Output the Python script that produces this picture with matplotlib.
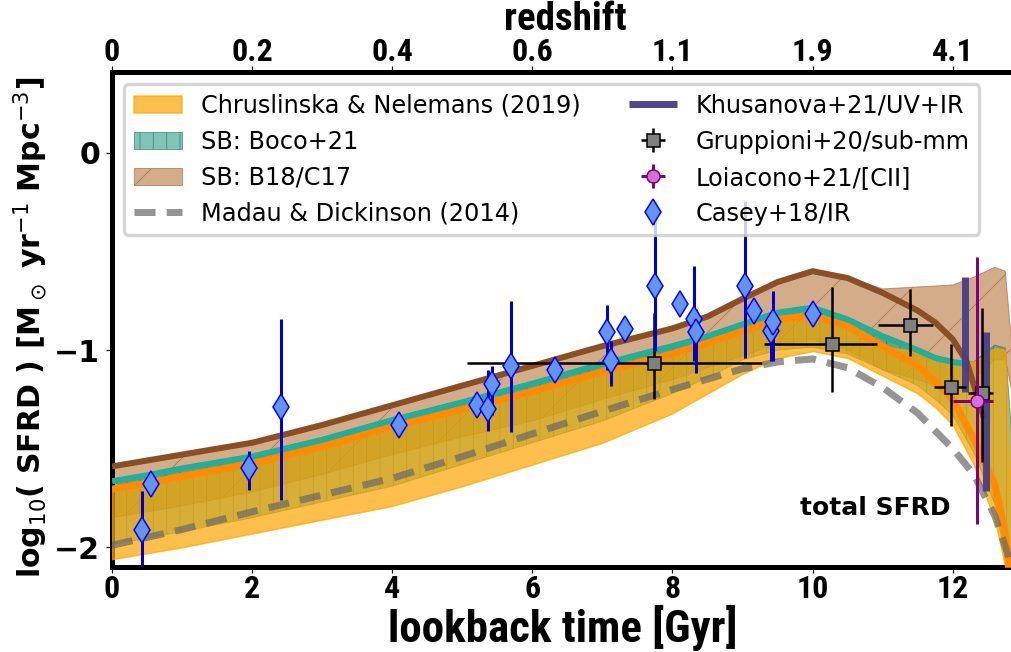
import glob
import os
import numpy as np
import matplotlib
matplotlib.use('Agg')
import matplotlib.pyplot as plt
from matplotlib import font_manager
from matplotlib.font_manager import FontProperties

DPI = 240
def pt(px):
    return px * 72.0 / DPI

# ---------------- condensed bold font for the x-axis texts ----------------
files = [f.fname for f in font_manager.fontManager.ttflist]
files += glob.glob('/usr/share/fonts/**/*.ttf', recursive=True)
files += glob.glob('/usr/share/fonts/**/*.otf', recursive=True)
prefs = ['LiberationSansNarrow-Bold.', 'RobotoCondensed-Bold.', 'Roboto-CondensedBold',
         'DejaVuSansCondensed-Bold.', 'OpenSans_Condensed-Bold', 'OpenSansCondensed-Bold']
COND = None
for p in prefs:
    for f in files:
        if p in os.path.basename(f):
            COND = f
            break
    if COND:
        break
if COND:
    FP_BASE = FontProperties(fname=COND)
    SLACK = 1.0
else:
    FP_BASE = FontProperties(family='DejaVu Sans', weight='bold')
    SLACK = 1.12

# ---------------- data (lookback time in Gyr, log10 SFRD) ----------------
t_grid = [0.0, 0.5, 1.0, 2.0, 3.0, 4.0, 5.0, 6.0, 7.0, 8.0, 8.5, 9.0, 9.5, 10.0,
          10.5, 11.0, 11.5, 11.75, 12.0, 12.3, 12.6, 12.75, 12.9]

# Chruslinska & Nelemans (2019): band and its central line
cn_hi = [-1.705, -1.675, -1.64, -1.575, -1.49, -1.39, -1.30, -1.21, -1.11, -1.02, -0.965,
         -0.905, -0.845, -0.825, -0.88, -0.98, -1.01, -1.04, -1.06, -1.06, -0.99, -1.0, -2.4]
cn_lo = [-2.06, -2.03, -2.0, -1.93, -1.86, -1.79, -1.69, -1.58, -1.47, -1.32, -1.22,
         -1.12, -1.04, -1.005, -1.04, -1.13, -1.22, -1.29, -1.38, -1.58, -1.86, -2.1, -2.4]
cn_line = [-1.705, -1.675, -1.64, -1.575, -1.49, -1.39, -1.30, -1.21, -1.11, -1.02, -0.965,
           -0.905, -0.845, -0.825, -0.88, -0.98, -1.08, -1.16, -1.25, -1.45, -1.68, -1.93, -2.4]

# SB: Boco+21
boco_hi = [-1.665, -1.635, -1.60, -1.54, -1.455, -1.355, -1.265, -1.17, -1.07, -0.98, -0.93,
           -0.87, -0.81, -0.785, -0.845, -0.93, -1.00, -1.04, -1.06, -1.06, -0.975, -0.99, -1.7]
boco_lo = [-1.985, -1.955, -1.92, -1.85, -1.77, -1.69, -1.58, -1.47, -1.36, -1.22, -1.14,
           -1.05, -1.0, -0.985, -1.02, -1.10, -1.18, -1.25, -1.33, -1.52, -1.78, -2.05, -2.4]
boco_line_t = [0.0, 0.5, 1.0, 2.0, 3.0, 4.0, 5.0, 6.0, 7.0, 8.0, 8.5, 9.0, 9.5, 10.0,
               10.5, 11.0, 11.5, 11.75, 12.0, 12.2]
boco_line = [-1.665, -1.635, -1.60, -1.54, -1.455, -1.355, -1.265, -1.17, -1.07, -0.98,
             -0.93, -0.87, -0.81, -0.785, -0.845, -0.93, -1.00, -1.04, -1.06, -1.07]

# SB: B18/C17
b18_hi = [-1.585, -1.555, -1.525, -1.465, -1.375, -1.275, -1.175, -1.075, -0.975, -0.885,
          -0.825, -0.735, -0.65, -0.595, -0.63, -0.69, -0.68, -0.675, -0.67, -0.63, -0.58,
          -0.6, -1.2]
b18_lo = [-1.85, -1.82, -1.79, -1.72, -1.63, -1.53, -1.44, -1.36, -1.25, -1.15, -1.09,
          -1.03, -0.97, -0.95, -1.0, -1.1, -1.15, -1.18, -1.2, -1.15, -1.05, -1.05, -1.3]
b18_line_t = [0.0, 0.5, 1.0, 2.0, 3.0, 4.0, 5.0, 6.0, 7.0, 8.0, 8.5, 9.0, 9.5, 10.0,
              10.5, 11.0, 11.5, 11.75, 12.0, 12.2, 12.45]
b18_line = [-1.59, -1.56, -1.53, -1.47, -1.38, -1.28, -1.18, -1.08, -0.98, -0.89, -0.83,
            -0.74, -0.655, -0.60, -0.635, -0.71, -0.80, -0.86, -0.945, -1.06, -1.35]

# Madau & Dickinson (2014)
md_t = [0.0, 1.0, 2.0, 3.0, 4.0, 5.0, 6.0, 7.0, 8.0, 9.0, 9.5, 10.0, 10.5, 11.0,
        11.5, 12.0, 12.3, 12.6, 12.8, 12.9]
md_v = [-1.99, -1.91, -1.82, -1.735, -1.65, -1.54, -1.425, -1.31, -1.20, -1.095,
        -1.06, -1.045, -1.09, -1.19, -1.32, -1.50, -1.63, -1.84, -2.05, -2.2]

# Casey+18/IR
casey_t = [0.425, 0.55, 1.95, 2.41, 4.10, 5.21, 5.36, 5.43, 5.70, 6.32, 7.07, 7.12,
           7.32, 7.75, 8.11, 8.30, 8.33, 9.04, 9.16, 9.40, 9.43, 10.01]
casey_v = [-1.91, -1.68, -1.60, -1.29, -1.38, -1.28, -1.30, -1.17, -1.08, -1.10, -0.91,
           -1.055, -0.895, -0.675, -0.765, -0.845, -0.91, -0.675, -0.80, -0.905,
           -0.86, -0.815]
casey_elo = [0.39, 0.02, 0.11, 0.47, 0.0, 0.04, 0.11, 0.16, 0.335, 0.05, 0.19, 0.125,
             0.045, 0.33, 0.045, 0.21, 0.205, 0.365, 0.04, 0.15, 0.195, 0.0]
casey_ehi = [0.195, 0.02, 0.09, 0.45, 0.0, 0.05, 0.20, 0.09, 0.33, 0.06, 0.14, 0.10,
             0.055, 0.43, 0.05, 0.27, 0.12, 0.43, 0.04, 0.10, 0.16, 0.0]

# Gruppioni+20/sub-mm
grp_t = [7.73, 10.27, 11.39, 11.98, 12.42]
grp_v = [-1.065, -0.97, -0.875, -1.185, -1.22]
grp_xlo = [2.67, 0.96, 0.46, 0.25, 0.20]
grp_xhi = [1.55, 0.65, 0.33, 0.21, 0.16]
grp_ylo = [0.185, 0.245, 0.155, 0.20, 0.35]
grp_yhi = [0.255, 0.29, 0.185, 0.215, 0.435]

# Loiacono+21/[CII]
loi_t = [12.35]
loi_v = [-1.26]
loi_xlo = [0.35]
loi_xhi = [0.23]
loi_ylo = [0.62]
loi_yhi = [0.73]

# Khusanova+21/UV+IR
khu_t = [12.18, 12.48]
khu_lo = [-1.215, -1.715]
khu_hi = [-0.63, -0.91]

bottom_ticks = [0, 2, 4, 6, 8, 10, 12]
bottom_labels = ['0', '2', '4', '6', '8', '10', '12']
top_labels = ['0', '0.2', '0.4', '0.6', '1.1', '1.9', '4.1']

# ---------------- figure ----------------
fig = plt.figure(figsize=(1011 / DPI, 652 / DPI), dpi=DPI)
ax = fig.add_axes([112 / 1011, 85 / 652, 901 / 1011, 495 / 652])
renderer = fig.canvas.get_renderer()

def fit_fp(s, target_w, max_px):
    fp = FP_BASE.copy()
    fp.set_size(pt(40))
    tt = fig.text(0, 0, s, fontproperties=fp)
    w = tt.get_window_extent(renderer).width
    tt.remove()
    size_px = min(40.0 * target_w / w * SLACK, max_px)
    fp = FP_BASE.copy()
    fp.set_size(pt(size_px))
    return fp

fp_tick = fit_fp('0.2', 45, 32)
fp_xlabel = fit_fp('lookback time [Gyr]', 379, 45)
fp_red = fit_fp('redshift', 150, 39)

plt.rcParams['hatch.linewidth'] = pt(1.0)

ax.fill_between(t_grid, b18_lo, b18_hi, facecolor='#b06a2a', edgecolor='sienna',
                alpha=0.55, hatch='/', lw=pt(1.0), zorder=1, label='SB: B18/C17')
ax.fill_between(t_grid, boco_lo, boco_hi, facecolor='#1a9478', edgecolor='#17705e',
                alpha=0.55, hatch='|||', lw=pt(1.0), zorder=2, label='SB: Boco+21')
ax.fill_between(t_grid, cn_lo, cn_hi, facecolor='orange', edgecolor='orange',
                alpha=0.7, lw=pt(1.5), zorder=3, label='Chruslinska & Nelemans (2019)')

ax.plot(b18_line_t, b18_line, color='#8b4f25', lw=pt(6), zorder=4, solid_capstyle='butt')
ax.plot(boco_line_t, boco_line, color='#25ad98', lw=pt(6), zorder=4, solid_capstyle='butt')
ax.plot(t_grid, cn_line, color='darkorange', lw=pt(7), zorder=4, solid_capstyle='butt')

ax.plot(md_t, md_v, color='dimgray', alpha=0.7, lw=pt(7), ls=(0, (3.0, 1.6)),
        zorder=5, label='Madau & Dickinson (2014)')

for i in range(len(khu_t)):
    ax.plot([khu_t[i], khu_t[i]], [khu_lo[i], khu_hi[i]], color='#483d8b',
            alpha=0.95, lw=pt(7), zorder=6, solid_capstyle='butt',
            label='Khusanova+21/UV+IR' if i == 0 else None)

ax.errorbar(grp_t, grp_v, xerr=[grp_xlo, grp_xhi], yerr=[grp_ylo, grp_yhi], fmt='s',
            ms=pt(13), mfc='gray', mec='black', mew=pt(1.5), ecolor='black',
            elinewidth=pt(2.5), capsize=0, zorder=7, label='Gruppioni+20/sub-mm')
ax.errorbar(loi_t, loi_v, xerr=[loi_xlo, loi_xhi], yerr=[loi_ylo, loi_yhi], fmt='o',
            ms=pt(13), mfc='orchid', mec='purple', mew=pt(1.5), ecolor='purple',
            elinewidth=pt(3), capsize=0, zorder=8, label='Loiacono+21/[CII]')
ax.errorbar(casey_t, casey_v, yerr=[casey_elo, casey_ehi], fmt='d', ms=pt(19),
            mfc='cornflowerblue', mec='blue', mew=pt(1.5), ecolor='mediumblue',
            elinewidth=pt(3), capsize=0, zorder=9, label='Casey+18/IR')

ax.text(10.9, -1.80, 'total SFRD', fontsize=pt(25), fontweight='bold',
        ha='center', va='center', zorder=10)

ax.set_xlim(0, 12.86)
ax.set_ylim(-2.1, 0.41)
ax.set_xticks(bottom_ticks)
ax.set_xticklabels(bottom_labels, fontproperties=fp_tick)
ax.set_yticks([-2, -1, 0])
ax.set_yticklabels(['\u22122', '\u22121', '0'], fontweight='bold', fontsize=pt(30))

ax.tick_params(axis='both', length=pt(6), width=pt(1.2))
ax.tick_params(axis='x', pad=pt(1))
ax.tick_params(axis='y', pad=pt(6))
ax.set_xlabel('lookback time [Gyr]', fontproperties=fp_xlabel)
ax.xaxis.label.set_va('baseline')
ax.xaxis.set_label_coords(0.5, (652 - 642 - 85) / 495)
ax.set_ylabel(r'log$_{10}$( SFRD ) [M$_\odot$ yr$^{-1}$ Mpc$^{-3}$]',
              fontweight='bold', fontsize=pt(30), labelpad=pt(4))
ax.yaxis.label.set_y(0.485)

for s in ['left', 'bottom', 'top']:
    ax.spines[s].set_linewidth(pt(5))
ax.spines['right'].set_visible(False)

ax2 = ax.twiny()
ax2.set_xlim(ax.get_xlim())
ax2.set_xticks(bottom_ticks)
ax2.set_xticklabels(top_labels, fontproperties=fp_tick)
ax2.tick_params(axis='x', length=pt(6), width=pt(1.2), pad=pt(-1))
ax2.set_xlabel('redshift', fontproperties=fp_red)
ax2.xaxis.label.set_va('baseline')
ax2.xaxis.set_label_coords(0.503, (652 - 29.5 - 85) / 495)
for s in ax2.spines.values():
    s.set_visible(False)

h, l = ax.get_legend_handles_labels()
order = ['Chruslinska & Nelemans (2019)', 'SB: Boco+21', 'SB: B18/C17',
         'Madau & Dickinson (2014)', 'Khusanova+21/UV+IR', 'Gruppioni+20/sub-mm',
         'Loiacono+21/[CII]', 'Casey+18/IR']
hd = dict(zip(l, h))
leg = ax.legend([hd[k] for k in order], order, ncol=2, loc='upper left',
                fontsize=pt(24.0), borderaxespad=0.5)
leg.set_zorder(20)

fig.savefig('out.png', dpi=DPI)
